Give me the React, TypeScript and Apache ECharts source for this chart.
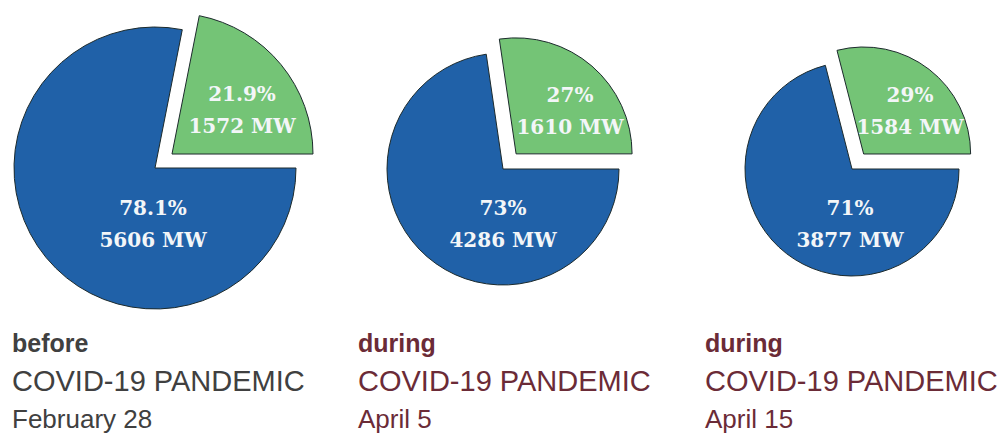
import React, { useEffect, useRef } from "react";
import * as echarts from "echarts";

// ---- data ----
const sliceNames = ["other", "share"];
const blueMW = [5606, 4286, 3877];
const greenMW = [1572, 1610, 1584];
const bluePct = ["78.1%", "73%", "71%"];
const greenPct = ["21.9%", "27%", "29%"];
const periodWords = ["before", "during", "during"];
const subtitle = "COVID-19 PANDEMIC";
const dates = ["February 28", "April 5", "April 15"];

// ---- layout (pixels) ----
const centers = [
  [155, 168],
  [503, 169],
  [852, 169],
];
const radii = [141, 116, 107];
const explode = [22, 20, 19];
const greenLabelOff = [
  [87, -58],
  [67, -58],
  [58, -58],
];
const blueLabelOff = [
  [-2, 56],
  [0, 55],
  [-2, 55],
];
const textLeft = [12, 358, 705];
const textColors = ["#404040", "#6b2b37", "#6b2b37"];

const BLUE = "#2061a8";
const GREEN = "#74c476";
const BORDER = "#1c2a2c";

export default function App() {
  const ref = useRef<HTMLDivElement>(null);

  useEffect(() => {
    if (!ref.current) return;
    const chart = echarts.init(ref.current, undefined, { renderer: "svg" });

    const series: any[] = [];
    centers.forEach((c, i) => {
      // the pie itself
      series.push({
        type: "pie",
        center: c,
        radius: radii[i],
        startAngle: 0,
        clockwise: true,
        selectedMode: "single",
        selectedOffset: explode[i],
        silent: true,
        emphasis: { disabled: true },
        itemStyle: { borderColor: BORDER, borderWidth: 1 },
        label: { show: false },
        labelLine: { show: false },
        data: [
          { name: sliceNames[0], value: blueMW[i], itemStyle: { color: BLUE } },
          {
            name: sliceNames[1],
            value: greenMW[i],
            selected: true,
            itemStyle: { color: GREEN },
            select: { itemStyle: { color: GREEN, borderColor: BORDER, borderWidth: 1 } },
          },
        ],
      });
      // transparent twin carrying the value labels
      series.push({
        type: "pie",
        center: c,
        radius: radii[i],
        startAngle: 0,
        clockwise: true,
        silent: true,
        z: 3,
        emphasis: { disabled: true },
        avoidLabelOverlap: false,
        itemStyle: { color: "rgba(0,0,0,0)", borderWidth: 0 },
        label: {
          show: true,
          position: "inside",
          fontFamily: "DejaVu Serif",
          fontWeight: "bold",
          fontSize: 20,
          lineHeight: 32,
          color: "#f3f6f8",
          align: "center",
          verticalAlign: "middle",
          formatter: (p: any) =>
            p.dataIndex === 0
              ? `${bluePct[i]}\n${blueMW[i]} MW`
              : `${greenPct[i]}\n${greenMW[i]} MW`,
        },
        labelLine: { show: false },
        labelLayout: (p: any) => {
          const off = p.dataIndex === 0 ? blueLabelOff[i] : greenLabelOff[i];
          return {
            x: c[0] + off[0],
            y: c[1] + off[1],
            align: "center",
            verticalAlign: "middle",
          };
        },
        data: [
          { name: sliceNames[0], value: blueMW[i] },
          { name: sliceNames[1], value: greenMW[i] },
        ],
      });
    });

    const texts: any[] = [];
    for (let i = 0; i < 3; i++) {
      texts.push(
        {
          type: "text",
          left: textLeft[i],
          top: 330,
          style: {
            text: periodWords[i],
            fontFamily: "Liberation Sans, Arial, sans-serif",
            fontWeight: "bold",
            fontSize: 25,
            fill: textColors[i],
          },
        },
        {
          type: "text",
          left: textLeft[i],
          top: 366,
          style: {
            text: subtitle,
            fontFamily: "Liberation Sans, Arial, sans-serif",
            fontSize: 29,
            fill: textColors[i],
          },
        },
        {
          type: "text",
          left: textLeft[i],
          top: 406,
          style: {
            text: dates[i],
            fontFamily: "Liberation Sans, Arial, sans-serif",
            fontSize: 26,
            fill: textColors[i],
          },
        }
      );
    }

    chart.setOption({
      animation: false,
      backgroundColor: "#ffffff",
      series,
      graphic: texts,
    });

    return () => chart.dispose();
  }, []);

  return (
    <div
      ref={ref}
      style={{ position: "fixed", left: 0, top: 0, width: 1003, height: 437 }}
    />
  );
}
